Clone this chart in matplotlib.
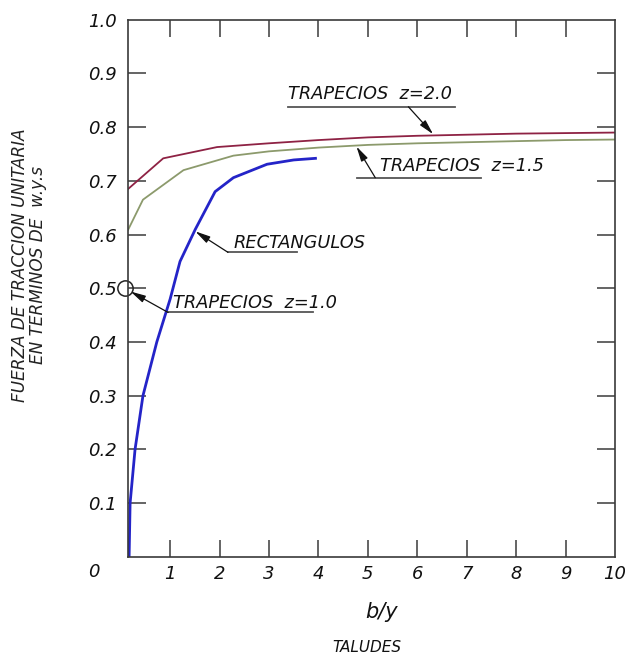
import matplotlib
matplotlib.use("Agg")
import matplotlib.pyplot as plt

# ---- data ----
rect_x = [0.17, 0.19, 0.29, 0.45, 0.73, 1.00, 1.20, 1.51, 1.91, 2.28, 2.96, 3.50, 3.94]
rect_y = [0.00, 0.10, 0.20, 0.30, 0.40, 0.48, 0.55, 0.61, 0.68, 0.706, 0.731, 0.739, 0.742]

z15_x = [0.15, 0.45, 1.27, 2.28, 3.0, 4.0, 5.0, 6.0, 7.0, 8.0, 9.0, 10.0]
z15_y = [0.609, 0.665, 0.720, 0.747, 0.755, 0.762, 0.767, 0.770, 0.772, 0.774, 0.776, 0.777]

z20_x = [0.15, 0.86, 1.95, 3.0, 4.0, 5.0, 6.0, 7.0, 8.0, 9.0, 10.0]
z20_y = [0.685, 0.742, 0.763, 0.770, 0.776, 0.781, 0.784, 0.786, 0.788, 0.789, 0.790]

x_ticks = [1, 2, 3, 4, 5, 6, 7, 8, 9, 10]
x_ticklabels = ["1", "2", "3", "4", "5", "6", "7", "8", "9", "10"]
y_ticks = [0.1, 0.2, 0.3, 0.4, 0.5, 0.6, 0.7, 0.8, 0.9, 1.0]
y_ticklabels = ["0.1", "0.2", "0.3", "0.4", "0.5", "0.6", "0.7", "0.8", "0.9", "1.0"]

lbl_z20 = "TRAPECIOS  z=2.0"
lbl_z15 = "TRAPECIOS  z=1.5"
lbl_rect = "RECTANGULOS"
lbl_z10 = "TRAPECIOS  z=1.0"

xlabel = "b/y"
sublabel = "TALUDES"
ylabel = "FUERZA DE TRACCION UNITARIA\nEN TERMINOS DE  w.y.s"

# ---- figure ----
fig = plt.figure(figsize=(6.25, 6.59), dpi=100)
ax = fig.add_axes([0.205, 0.155, 0.779, 0.815])

c_red = "#8e2244"
c_green = "#8c9a6c"
c_blue = "#2424c8"
c_axis = "#3a3a3a"

ax.plot(z20_x, z20_y, color=c_red, lw=1.3)
ax.plot(z15_x, z15_y, color=c_green, lw=1.3)
ax.plot(rect_x, rect_y, color=c_blue, lw=2.0)

ax.set_xlim(0.15, 10.0)
ax.set_ylim(0.0, 1.0)

for s in ax.spines.values():
    s.set_color(c_axis)
    s.set_linewidth(1.2)

ax.set_xticks(x_ticks)
ax.set_xticklabels(x_ticklabels)
ax.set_yticks(y_ticks)
ax.set_yticklabels(y_ticklabels)
ax.tick_params(axis="x", direction="in", length=12, width=1.1, color=c_axis,
               top=True, bottom=True, pad=6)
ax.tick_params(axis="y", direction="in", length=13, width=1.1, color=c_axis,
               left=True, right=True, pad=8)
last = ax.yaxis.get_major_ticks()[-1]
last.tick1line.set_visible(False)
last.tick2line.set_visible(False)
xt = ax.xaxis.get_major_ticks()[-1]
xt.tick1line.set_visible(False)
xt.tick2line.set_visible(False)
for t in ax.get_xticklabels() + ax.get_yticklabels():
    t.set_fontsize(13)
    t.set_fontstyle("italic")
    t.set_color("#111111")

# origin label
ax.text(-0.55, -0.028, "0", ha="center", va="center", fontsize=13,
        fontstyle="italic", color="#111111", clip_on=False)

# axis labels
fig.text(382 / 625, 1 - 612 / 659, xlabel, ha="center", va="center",
         fontsize=15, fontstyle="italic", color="#111111")
fig.text(367 / 625, 1 - 647 / 659, sublabel, ha="center", va="center",
         fontsize=11, fontstyle="italic", color="#111111")
fig.text(29 / 625, 1 - 265 / 659, ylabel, ha="center", va="center",
         rotation=90, fontsize=12.2, fontstyle="italic", color="#222222",
         linespacing=0.95)

fs_ann = 12.8
arrow = dict(arrowstyle="-|>,head_length=0.9,head_width=0.22",
             color="#111111", lw=0.9, shrinkA=0, shrinkB=0)

# z=2.0
ax.text(3.39, 0.862, lbl_z20, ha="left", va="center", fontsize=fs_ann,
        fontstyle="italic", color="#111111")
ax.plot([3.39, 6.77], [0.838, 0.838], color="#555555", lw=1.3)
ax.annotate("", xy=(6.32, 0.787), xytext=(5.82, 0.838), arrowprops=arrow)
# z=1.5
ax.text(5.25, 0.727, lbl_z15, ha="left", va="center", fontsize=fs_ann,
        fontstyle="italic", color="#111111")
ax.plot([4.79, 7.28], [0.706, 0.706], color="#555555", lw=1.3)
ax.annotate("", xy=(4.77, 0.764), xytext=(5.15, 0.706), arrowprops=arrow)
# rectangulos
ax.text(2.28, 0.585, lbl_rect, ha="left", va="center", fontsize=fs_ann,
        fontstyle="italic", color="#111111")
ax.plot([2.17, 3.57], [0.567, 0.567], color="#555555", lw=1.3)
ax.annotate("", xy=(1.51, 0.606), xytext=(2.17, 0.567), arrowprops=arrow)
# z=1.0
ax.text(1.06, 0.473, lbl_z10, ha="left", va="center", fontsize=fs_ann,
        fontstyle="italic", color="#111111")
ax.plot([0.96, 3.89], [0.455, 0.455], color="#555555", lw=1.3)
ax.plot([0.09], [0.5], marker="o", ms=11, mfc="none", mec="#222222", mew=1.1,
        clip_on=False)
ax.annotate("", xy=(0.2, 0.494), xytext=(0.96, 0.455), arrowprops=arrow)

fig.savefig("out.png", dpi=100)
